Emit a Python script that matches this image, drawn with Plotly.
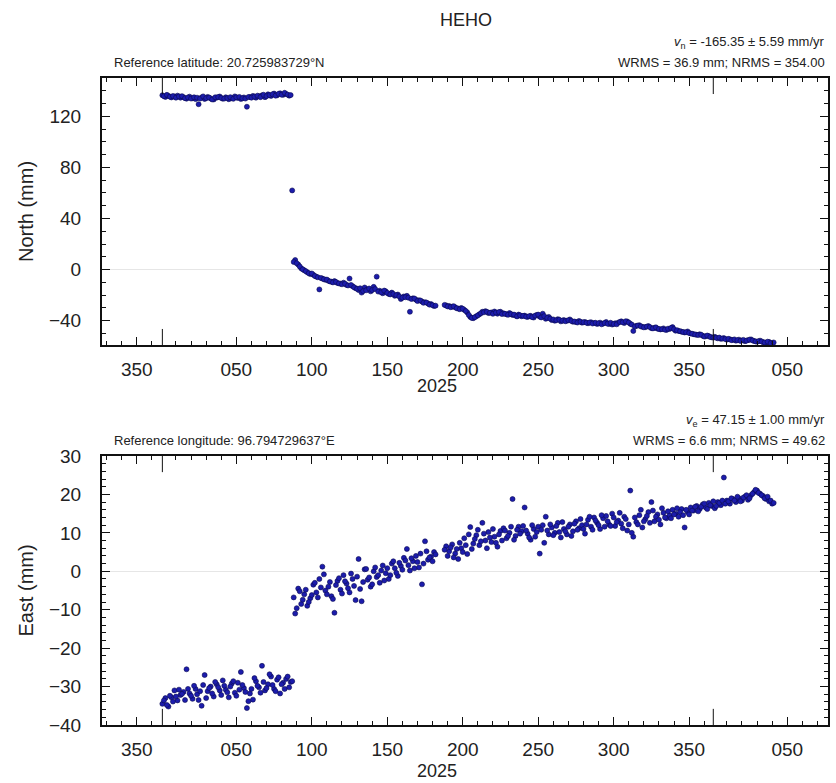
import plotly.graph_objects as go

# ---------------- data ----------------
# x = day of year 2025 (2024 days negative, 2026 days > 365)
days_pre = [1, 3, 5, 7, 9, 11, 13, 15, 17, 19, 21, 23, 25, 27, 29, 31, 33, 35, 37, 39, 41, 43,
            45, 47, 49, 51, 53, 55, 57, 59, 61, 63, 65, 67, 69, 71, 73, 75, 77, 79, 81, 83, 85]
north_pre = [136.5, 135.2, 136.0, 134.8, 135.5, 136.2, 134.6, 135.0, 133.8, 135.4, 134.2, 133.5,
             129.5, 134.8, 133.6, 135.2, 134.0, 133.2, 134.6, 135.5, 133.8, 134.9, 133.4, 134.2,
             135.6, 134.4, 133.6, 134.8, 127.5, 135.2, 136.0, 134.6, 135.8, 136.4, 135.0, 137.2,
             136.0, 137.8, 136.4, 138.0, 136.8, 137.5, 136.2]
east_pre = [-34.5, -33.0, -35.2, -32.8, -31.0, -33.6, -32.2, -31.4, -25.5, -31.8, -33.2, -30.6,
            -33.5, -35.0, -27.0, -31.2, -30.0, -32.6, -29.4, -31.0, -28.4, -30.8, -32.8, -29.2,
            -31.6, -29.0, -26.2, -30.4, -35.6, -31.8, -33.4, -28.6, -30.2, -24.6, -31.0, -29.4,
            -27.4, -30.6, -28.2, -31.8, -29.0, -28.0, -30.2]

days_pre_b = [2, 4, 6, 8, 10, 12, 14, 16, 18, 20, 22, 24, 26, 28, 30, 32, 34, 36, 38, 40, 42, 44,
              46, 48, 50, 52, 54, 56, 58, 60, 62, 64, 66, 68, 70, 72, 74, 76, 78, 80, 82, 84, 86]
north_pre_b = [135.8, 136.8, 135.4, 135.9, 134.6, 135.6, 135.8, 134.2, 134.8, 133.9, 134.9, 134.6,
               133.9, 135.6, 134.2, 134.7, 133.2, 134.9, 135.1, 134.4, 133.9, 134.3, 135.0, 133.7,
               134.9, 135.2, 134.1, 133.9, 135.1, 134.6, 135.4, 136.2, 135.0, 136.9, 135.8, 136.6,
               137.3, 136.2, 137.6, 136.9, 138.4, 137.0, 136.6]
east_pre_b = [-33.6, -34.8, -32.4, -33.9, -32.6, -30.8, -31.9, -33.5, -30.6, -32.4, -29.8, -32.0,
              -31.2, -29.6, -33.0, -30.4, -31.8, -28.8, -30.2, -32.2, -29.8, -31.5, -30.0, -28.6,
              -32.4, -30.8, -29.6, -31.4, -33.8, -30.6, -27.8, -29.8, -31.6, -28.8, -30.4, -26.8,
              -29.6, -31.2, -27.6, -29.4, -30.6, -27.4, -28.8]

days_jump = [87]
north_jump = [62.0]
east_jump = [-28.6]

days_post = [89, 91, 93, 95, 97, 99, 101, 103, 105, 107, 109, 111, 113, 115, 117, 119, 121, 123,
             125, 127, 129, 131, 133, 135, 137, 139, 141, 143, 145, 147, 149, 151, 153, 155, 157,
             159, 161, 163, 165, 167, 169, 171, 173, 175, 177, 179, 181, 189, 191, 193, 195, 197,
             199, 201, 203, 205, 207, 209, 211, 213, 215, 217, 219, 221, 223, 225, 227, 229, 231,
             233, 235, 237, 239, 241, 243, 245, 247, 249, 251, 253, 255, 257, 259, 261, 263, 265,
             267, 269, 271, 273, 275, 277, 279, 281, 283, 285, 287, 289, 291, 293, 295, 297, 299,
             301, 303, 305, 307, 309, 311, 313, 315, 317, 319, 321, 323, 325, 327, 329, 331, 333,
             335, 337, 339, 341, 343, 345, 347, 349, 351, 353, 355, 357, 359, 361, 363, 365, 367,
             369, 371, 373, 375, 377, 379, 381, 383, 385, 387, 389, 391, 393, 395, 397, 399, 401,
             403, 405]
north_post = [7.5, 4.0, 1.0, -0.5, -2.0, -3.5, -4.0, -5.5, -15.5, -7.0, -8.0, -8.8, -9.5, -9.0,
              -10.5, -11.0, -10.2, -12.0, -7.0, -13.0, -14.5, -16.0, -18.0, -14.0, -15.5, -17.0,
              -13.5, -5.5, -16.5, -18.5, -17.0, -19.0, -18.0, -20.5, -19.5, -23.0, -21.0, -20.5,
              -33.0, -22.5, -23.5, -24.0, -25.0, -25.5, -26.5, -27.0, -28.5, -28.0, -28.5, -29.0,
              -29.5, -30.5, -30.0, -31.5, -33.5, -37.0, -38.0, -36.5, -35.0, -33.0, -32.5, -34.0,
              -33.5, -32.8, -34.5, -33.0, -34.2, -35.0, -34.0, -35.5, -36.0, -35.2, -36.5, -36.0,
              -37.0, -36.2, -37.5, -35.5, -36.8, -34.5, -38.5, -37.0, -39.5, -40.0, -38.8, -40.5,
              -39.5, -40.0, -39.0, -40.8, -41.0, -40.2, -41.5, -41.0, -42.0, -41.2, -41.8, -42.5,
              -41.5, -42.2, -41.0, -42.5, -43.0, -42.0, -41.5, -40.5, -41.8, -40.6, -42.4, -48.0,
              -44.0, -43.5, -44.8, -45.0, -44.2, -45.8, -45.5, -46.2, -46.8, -46.0, -47.2, -46.5,
              -45.0, -47.8, -48.0, -48.6, -49.2, -48.4, -50.0, -50.5, -51.0, -50.6, -51.8, -52.2,
              -52.0, -53.0, -52.6, -53.8, -54.2, -53.6, -54.8, -54.5, -55.0, -55.6, -54.8, -55.4,
              -56.0, -55.2, -54.6, -55.8, -56.4, -55.6, -56.8, -57.2, -56.6, -57.4]
east_post = [-11.0, -4.5, -8.5, -6.0, -9.0, -7.0, -3.5, -5.5, -2.0, 1.2, -5.0, -4.0, -6.5, -10.8,
             -2.5, -4.8, -1.0, -3.2, -5.5, -2.0, -7.5, 3.2, -7.8, 0.5, -2.2, -4.0, 0.0, -1.5, -3.0,
             1.5, -0.5, -2.0, 2.0, 0.8, -1.2, 1.4, 3.5, 5.8, 0.2, 2.6, 4.0, 1.0, -3.4, 7.8, 3.0,
             3.8, 5.0, 6.5, 5.2, 7.0, 4.6, 3.2, 6.0, 8.6, 4.5, 11.5, 7.2, 9.4, 6.8, 12.6, 8.0, 10.2,
             7.6, 9.0, 6.4, 10.5, 11.2, 8.6, 10.0, 18.8, 9.2, 11.6, 10.4, 16.6, 9.8, 8.2, 11.0,
             10.2, 4.6, 12.0, 14.2, 9.6, 11.4, 10.0, 12.6, 8.8, 11.0, 9.6, 12.2, 10.4, 13.0, 11.2,
             12.0, 9.8, 13.4, 11.6, 14.0, 12.6, 11.0, 13.8, 14.4, 12.2, 15.0, 11.8, 13.2, 12.4,
             14.2, 10.6, 21.0, 9.0, 12.8, 14.6, 11.4, 13.6, 15.4, 18.0, 13.0, 14.8, 12.2, 15.2,
             13.8, 14.6, 16.0, 15.0, 14.2, 16.2, 11.4, 15.4, 16.6, 15.8, 17.0, 16.2, 17.4, 16.6,
             17.8, 17.0, 16.4, 18.0, 17.2, 24.4, 18.4, 17.6, 18.8, 18.0, 19.0, 18.4, 19.4, 18.6,
             19.8, 20.6, 21.0, 20.2, 19.6, 18.8, 18.2, 17.6]

days_post_b = [88, 90, 92, 94, 96, 98, 100, 102, 104, 106, 108, 110, 112, 114, 116, 118, 120, 122,
               124, 126, 128, 130, 132, 134, 136, 138, 140, 142, 144, 146, 148, 150, 152, 154, 156,
               158, 160, 162, 164, 166, 168, 170, 172, 174, 176, 178, 180, 182,
               188, 190, 192, 194, 196, 198, 200, 202, 204, 206, 208, 210, 212, 214, 216, 218, 220,
               222, 224, 226, 228, 230, 232, 234, 236, 238, 240, 242, 244, 246, 248, 250, 252, 254,
               256, 258, 260, 262, 264, 266, 268, 270, 272, 274, 276, 278, 280, 282, 284, 286, 288,
               290, 292, 294, 296, 298, 300, 302, 304, 306, 308, 310, 312, 314, 316, 318, 320, 322,
               324, 326, 328, 330, 332, 334, 336, 338, 340, 342, 344, 346, 348, 350, 352, 354, 356,
               358, 360, 362, 364, 366, 368, 370, 372, 374, 376, 378, 380, 382, 384, 386, 388, 390,
               392, 394, 396, 398, 400, 402, 404, 406]
north_post_b = [6.0, 5.0, 2.5, 0.2, -1.2, -2.8, -3.0, -5.0, -6.0, -6.5,
                -7.5, -7.8, -9.2, -10.0, -9.6, -10.8, -11.5, -11.0, -12.4, -12.0,
                -13.8, -15.0, -14.6, -16.8, -16.2, -14.8, -16.0, -15.2, -17.2, -17.8,
                -16.4, -18.2, -19.4, -19.0, -20.0, -21.0, -22.0, -21.6, -22.0, -23.0,
                -22.6, -24.6, -24.2, -26.0, -25.8, -27.4, -27.8, -28.2,
                -27.6, -28.8, -29.4, -28.6, -30.2, -31.0, -30.6, -32.4, -35.5, -37.8,
                -37.2, -35.8, -34.2, -33.4, -33.0, -33.8, -34.6, -33.6, -33.2, -34.8,
                -34.6, -35.4, -34.8, -35.2, -36.6, -35.8, -36.2, -36.8, -36.4, -37.2,
                -36.0, -35.2, -37.4, -36.4, -37.8, -38.4, -39.0, -39.6, -39.2, -40.0,
                -40.4, -39.6, -40.2, -40.6, -41.4, -40.8, -41.2, -41.6, -41.4, -42.2,
                -41.6, -42.0, -42.8, -41.8, -42.4, -41.6, -42.6, -42.8, -41.0, -41.2,
                -40.4, -41.4, -43.0, -44.6, -43.8, -44.4, -45.2, -44.6, -45.0, -46.0,
                -45.2, -46.4, -46.6, -47.0, -46.2, -45.6, -46.6, -47.4, -48.2, -48.8,
                -49.0, -49.6, -50.2, -50.8, -51.2, -51.0, -52.4, -51.6, -52.8, -53.2,
                -53.4, -53.2, -54.0, -54.4, -54.2, -55.2, -54.6, -55.2, -55.8, -55.0,
                -55.6, -54.8, -55.4, -56.2, -56.0, -56.2, -57.0, -56.4, -57.6, -57.0]
east_post_b = [-6.8, -9.6, -5.2, -7.4, -4.8, -8.0, -6.2, -3.0, -6.8, -4.2,
               -0.8, -6.0, -2.8, -7.2, -3.6, -1.8, -5.8, -2.6, -4.4, -0.6,
               -3.8, -1.4, -4.6, -2.8, 0.6, -1.6, -3.4, 1.0, -1.0, 0.2,
               -2.4, 0.8, -1.0, 2.6, -0.4, 2.2, 0.4, 2.8, 1.6, 3.4,
               0.8, 2.4, 4.6, 2.0, 5.2, 3.6, 2.6, 4.4,
               5.6, 4.0, 6.2, 3.6, 5.8, 7.4, 5.0, 6.8, 9.6, 5.8,
               8.4, 10.8, 7.8, 9.8, 6.0, 8.8, 11.0, 7.4, 9.6, 8.0,
               10.6, 9.2, 11.6, 8.2, 10.8, 9.8, 11.8, 10.6, 8.8, 12.0,
               9.0, 11.6, 10.8, 7.4, 10.6, 12.2, 9.4, 11.8, 10.2, 12.8,
               10.4, 11.6, 9.2, 12.4, 10.8, 13.6, 11.0, 12.2, 14.2, 10.8,
               13.2, 12.0, 14.6, 11.6, 13.0, 11.8, 14.0, 12.8, 15.2, 11.2,
               13.6, 12.2, 10.0, 14.0, 12.2, 16.0, 13.0, 14.4, 12.6, 15.8,
               14.2, 13.4, 16.4, 14.0, 15.6, 13.8, 14.8, 16.4, 15.4, 14.6,
               16.0, 14.8, 15.8, 16.8, 15.6, 16.8, 17.6, 16.2, 17.2, 18.2,
               17.0, 17.8, 18.4, 17.6, 18.2, 19.0, 18.4, 19.4, 18.2, 19.2,
               19.8, 19.0, 20.2, 21.2, 20.4, 19.8, 19.0, 19.4, 18.4, 17.8]

tick_vals = [-16, 50, 100, 150, 200, 250, 300, 350, 415]
tick_text = ["350", "050", "100", "150", "200", "250", "300", "350", "050"]
minor_vals = [-36, -26, -16, -6] + [10 * k for k in range(1, 37)] + [375, 385, 395, 405, 415, 425, 435]
year_starts = [1, 366]
year_label = "2025"
year_mid = 183

station = "HEHO"
north_vel = "<i>v</i><sub>n</sub> = -165.35 ± 5.59 mm/yr"
north_ref = "Reference latitude: 20.725983729°N"
north_stats = "WRMS = 36.9 mm; NRMS = 354.00"
east_vel = "<i>v</i><sub>e</sub> = 47.15 ± 1.00 mm/yr"
east_ref = "Reference longitude: 96.794729637°E"
east_stats = "WRMS = 6.6 mm; NRMS = 49.62"

days = days_pre + days_pre_b + days_jump + days_post + days_post_b
north = north_pre + north_pre_b + north_jump + north_post + north_post_b
east = east_pre + east_pre_b + east_jump + east_post + east_post_b

# ---------------- figure ----------------
W, H = 836, 783
L, R, T, B = 102, 830, 78, 725
top_bot, bot_top = 345, 456

def py(p):
    return (B - p) / (B - T)

def px(p):
    return (p - L) / (R - L)

FONT = "Liberation Sans, Arial, sans-serif"
TXT = "#222222"
mk = dict(size=5, color="#1c1cac", line=dict(color="#0a0a50", width=0.6))

fig = go.Figure()
fig.add_trace(go.Scatter(x=days, y=north, mode="markers", marker=mk, xaxis="x", yaxis="y",
                         showlegend=False, hoverinfo="x+y"))
fig.add_trace(go.Scatter(x=days, y=east, mode="markers", marker=mk, xaxis="x2", yaxis="y2",
                         showlegend=False, hoverinfo="x+y"))

xcommon = dict(range=[-39, 442], tickmode="array", tickvals=tick_vals, ticktext=tick_text,
               ticks="inside", ticklen=8, tickwidth=1, tickcolor="#111",
               showline=True, linecolor="#111", linewidth=2, mirror="allticks",
               showgrid=False, zeroline=False, ticklabelstandoff=6,
               tickfont=dict(family=FONT, size=19, color=TXT),
               minor=dict(tickmode="array", tickvals=minor_vals, ticks="inside", ticklen=4,
                          tickwidth=1, tickcolor="#111", showgrid=False))
ycommon = dict(ticks="inside", ticklen=8, tickwidth=1, tickcolor="#111",
               showline=True, linecolor="#111", linewidth=2, mirror="allticks",
               showgrid=False, zeroline=True, zerolinecolor="#e6e6e6", zerolinewidth=1,
               ticklabelstandoff=15,
               tickfont=dict(family=FONT, size=19, color=TXT),
               title_font=dict(family=FONT, size=20, color=TXT))

fig.update_layout(
    width=W, height=H, margin=dict(l=L, r=W - R, t=T, b=H - B),
    paper_bgcolor="white", plot_bgcolor="white",
    xaxis=dict(xcommon, domain=[0, 1], anchor="y"),
    yaxis=dict(ycommon, domain=[py(top_bot), 1], anchor="x", range=[-59, 150],
               tickvals=[-40, 0, 40, 80, 120],
               minor=dict(dtick=10, tick0=0, ticks="inside", ticklen=4, tickcolor="#111", showgrid=False),
               title=dict(text="North (mm)", standoff=10)),
    xaxis2=dict(xcommon, domain=[0, 1], anchor="y2"),
    yaxis2=dict(ycommon, domain=[0, py(bot_top)], anchor="x2", range=[-40, 30],
                tickvals=[-40, -30, -20, -10, 0, 10, 20, 30],
                minor=dict(dtick=2, tick0=0, ticks="inside", ticklen=4, tickcolor="#111", showgrid=False),
                title=dict(text="East (mm)", standoff=10)),
    showlegend=False,
)

# longer ticks at year boundaries
for xa, ya in (("x", "y"), ("x2", "y2")):
    for ys in year_starts:
        fig.add_shape(type="line", xref=xa, yref=ya + " domain", x0=ys, x1=ys, y0=0, y1=0.06,
                      line=dict(color="#111", width=1))
        fig.add_shape(type="line", xref=xa, yref=ya + " domain", x0=ys, x1=ys, y0=0.94, y1=1,
                      line=dict(color="#111", width=1))

def ann(text, x, y, xanchor, size, xref="paper"):
    fig.add_annotation(text=text, x=x, y=y, xref=xref, yref="paper", xanchor=xanchor,
                       yanchor="middle", showarrow=False,
                       font=dict(family=FONT, size=size, color=TXT))

ann(station, px(467), py(20), "center", 18)
ann(north_vel, px(829), py(42), "right", 13)
ann(north_ref, px(112), py(62), "left", 13)
ann(north_stats, px(829), py(62), "right", 13)
ann(year_label, year_mid, py(386), "center", 18, xref="x")
ann(east_vel, px(829), py(420), "right", 13)
ann(east_ref, px(112), py(440), "left", 13)
ann(east_stats, px(829), py(440), "right", 13)
ann(year_label, year_mid, py(771), "center", 18, xref="x")

fig.write_html("out.html")
